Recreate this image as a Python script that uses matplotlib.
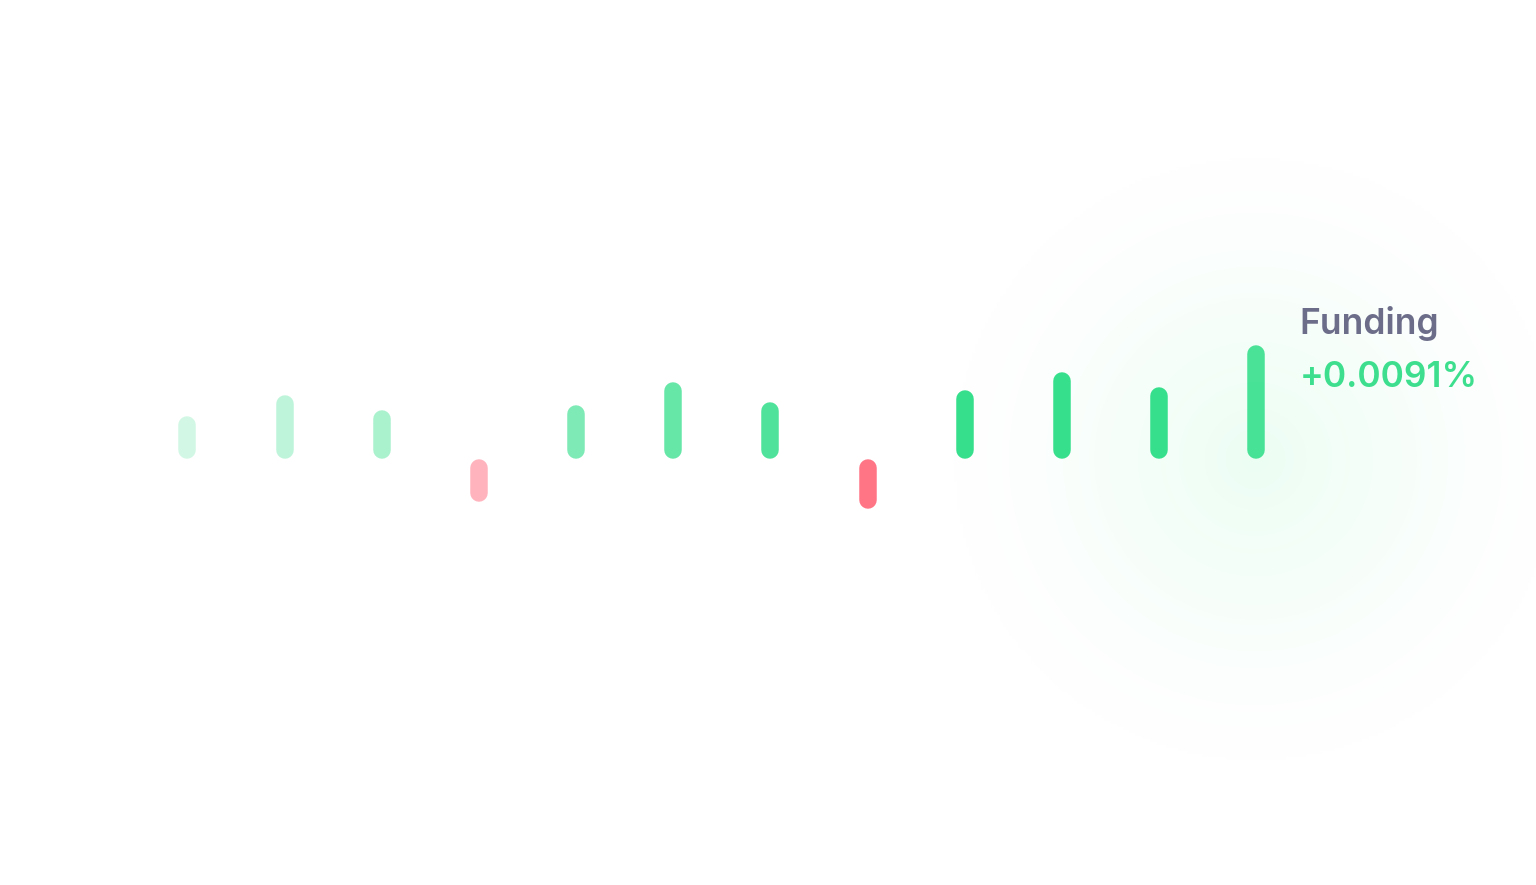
import numpy as np
import matplotlib
matplotlib.use("Agg")
import matplotlib.pyplot as plt

# funding rate per period (%)
periods = list(range(12))
rates = [0.0034, 0.0051, 0.0039, -0.0034, 0.0043, 0.0061,
         0.0045, -0.0040, 0.0055, 0.0069, 0.0057, 0.0091]
label_title = "Funding"
label_value = "+0.0091%"

green = "#36df8c"
red = "#ff6e80"
fade = [0.22, 0.32, 0.42, 0.52, 0.64, 0.76, 0.88, 0.95, 1.0, 1.0, 1.0, 0.9]

W, H, DPI = 1536, 885, 100
fig = plt.figure(figsize=(W / DPI, H / DPI), dpi=DPI)
ax = fig.add_axes([0, 0, 1, 1])
ax.set_axis_off()

# map the data onto the canvas
step_px = 97.2
x0_px = 187.3
base_px = H - 459
k = rates[-1] / 114.0  # % per pixel
ax.set_xlim(-x0_px / step_px, (W - x0_px) / step_px)
ax.set_ylim(-base_px * k, (H - base_px) * k)

# soft mint glow behind the latest bar (blended onto white, opaque)
cx, cy = periods[-1], 0.0
gx = np.linspace(*ax.get_xlim(), 500)
gy = np.linspace(*ax.get_ylim(), 300)
GX, GY = np.meshgrid(gx, gy)
dist = np.hypot((GX - cx) * step_px, (GY - cy) / k)
t = np.clip(1 - dist / 300.0, 0, 1) ** 1.3
core = np.array([0.925, 0.995, 0.955])
img = 1 - t[..., None] * (1 - core)
ax.imshow(img, extent=(*ax.get_xlim(), *ax.get_ylim()), origin="lower",
          aspect="auto", interpolation="bilinear", zorder=0)

bar_px = 17.5
lw = bar_px * 72 / DPI
r = bar_px / 2 * k
for x, v, al in zip(periods, rates, fade):
    c = green if v >= 0 else red
    sgn = 1 if v >= 0 else -1
    ax.plot([x, x], [sgn * r, v - sgn * r], color=c, alpha=al, lw=lw,
            solid_capstyle="round", zorder=2)

ax.annotate(label_title, xy=(periods[-1], rates[-1]), xytext=(43, 11),
            textcoords="offset pixels", ha="left", va="baseline",
            fontsize=25.5, fontweight="semibold", family="Inter", color="#6b6d89")
ax.annotate(label_value, xy=(periods[-1], rates[-1]), xytext=(43, -42),
            textcoords="offset pixels", ha="left", va="baseline",
            fontsize=25.5, fontweight="semibold", family="Inter", color="#3ddf8e")

fig.savefig("out.png", dpi=DPI)
